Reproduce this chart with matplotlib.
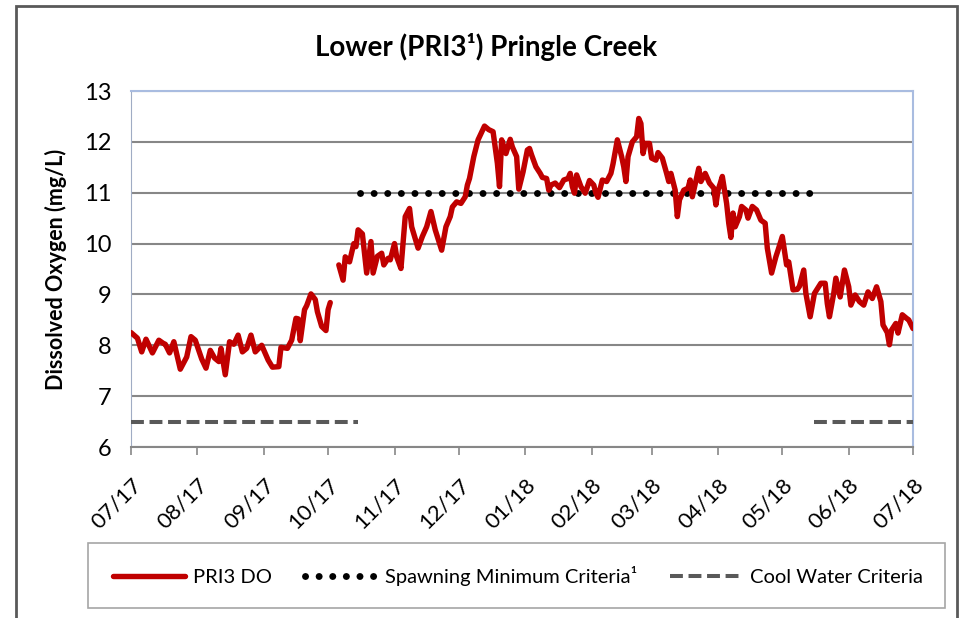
import numpy as np
import pandas as pd
import matplotlib
matplotlib.use("Agg")
import matplotlib.pyplot as plt
import matplotlib.dates as mdates
from matplotlib.patches import Rectangle

plt.rcParams["font.family"] = ["Lato", "DejaVu Sans"]

# dados: dias a partir de 01/07/2017 e OD (mg/L)
start = pd.Timestamp("2017-07-01")
do_days = [0, 3, 5, 7, 10, 13, 15, 16, 18, 20, 23, 26, 28, 30, 33, 35, 37, 39, 41, 42,
           44, 46, 48, 50, 52, 54, 56, 58, 61, 64, 66, 69, 70, 73, 75, 77, 78, 79, 81, 82,
           84, 86, 87, 89, 91, 92, 93, 95,
           97, 99, 100, 102, 104, 105, 106, 108, 110, 112, 113, 115, 117, 118, 120, 121,
           123, 124, 126, 128, 130, 131, 134, 136, 138, 140, 142, 145, 147, 149, 150, 152,
           154, 156, 157, 158, 160, 162, 165, 167, 169, 171, 172, 173, 175, 177, 178, 180,
           181, 183, 185, 186, 187, 189, 191, 192, 194, 195, 196, 198, 200, 202, 204, 205,
           206, 207, 208, 210, 212, 214, 216, 217, 218, 220, 222, 224, 225, 227, 229, 230,
           231, 232, 234, 236, 237, 238, 239, 240, 242, 243, 245, 246, 248, 250, 251, 252,
           254, 255, 256, 258, 260, 261, 262, 265, 266, 268, 270, 272, 273, 274, 275, 276,
           278, 279, 280, 281, 282, 284, 285, 287, 288, 290, 292, 294, 296, 297, 299, 301,
           302, 304, 306, 307, 309, 311, 312, 314, 315, 317, 319, 322, 324, 325, 326, 328,
           329, 331, 333, 335, 336, 338, 340, 342, 344, 346, 348, 350, 351, 353, 354, 355,
           357, 358, 360, 362, 363, 365]
do_vals = [8.25, 8.14, 7.87, 8.12, 7.85, 8.10, 8.04, 8.02, 7.85, 8.07, 7.53, 7.77, 8.17, 8.10,
           7.73, 7.55, 7.90, 7.75, 7.68, 7.94, 7.42, 8.07, 8.02, 8.20, 7.87, 7.94, 8.20, 7.87,
           8.00, 7.71, 7.57, 7.58, 7.96, 7.94, 8.10, 8.53, 8.52, 8.09, 8.70, 8.78, 9.01, 8.90,
           8.66, 8.37, 8.29, 8.70, 8.84, np.nan,
           9.58, 9.28, 9.74, 9.64, 10.00, 9.94, 10.27, 10.19, 9.42, 10.04, 9.42, 9.75, 9.81,
           9.58, 9.71, 9.68, 10.00, 9.74, 9.51, 10.53, 10.69, 10.33, 9.91, 10.14, 10.33, 10.63,
           10.27, 9.87, 10.33, 10.53, 10.72, 10.82, 10.79, 10.92, 11.15, 11.28, 11.71, 12.04,
           12.31, 12.24, 12.20, 11.58, 11.12, 12.04, 11.77, 12.05, 11.90, 11.71, 11.07, 11.41,
           11.84, 11.87, 11.74, 11.51, 11.38, 11.30, 11.28, 11.05, 11.15, 11.19, 11.10, 11.25,
           11.28, 11.38, 11.12, 10.99, 11.35, 11.12, 10.99, 11.24, 11.15, 10.99, 10.91, 11.25,
           11.22, 11.38, 11.57, 12.04, 11.71, 11.51, 11.22, 11.71, 12.00, 12.10, 12.46, 12.36,
           11.77, 11.97, 11.97, 11.68, 11.64, 11.79, 11.68, 11.38, 11.22, 11.38, 11.05, 10.53,
           10.86, 11.05, 11.09, 11.25, 10.92, 11.48, 11.22, 11.38, 11.19, 11.09, 10.76, 11.05,
           11.18, 11.32, 10.79, 10.40, 10.12, 10.60, 10.33, 10.53, 10.73, 10.66, 10.50, 10.73,
           10.66, 10.46, 10.40, 9.91, 9.42, 9.74, 9.87, 10.14, 9.58, 9.64, 9.09, 9.10, 9.16,
           9.48, 9.02, 8.56, 9.02, 9.22, 9.22, 8.82, 8.56, 9.02, 9.32, 8.95, 9.48, 9.15, 8.79,
           8.99, 8.86, 8.79, 9.05, 8.92, 9.15, 8.86, 8.40, 8.25, 8.01, 8.30, 8.43, 8.24, 8.60,
           8.53, 8.50, 8.33]

# critérios
spawn_dates = ["2017-10-16", "2018-05-16"]
spawn_vals = [11.0, 11.0]
cool_dates = ["2017-07-01", "2017-10-15", "2017-10-16", "2018-05-16", "2018-07-01"]
cool_vals = [6.5, 6.5, np.nan, 6.5, 6.5]

do_dates = start + pd.to_timedelta(do_days, unit="D")

fig = plt.figure(figsize=(9.63, 6.18), dpi=100)
ax = fig.add_axes([131 / 963, 1 - 447 / 618, 782 / 963, 356 / 618])

ax.plot(pd.to_datetime(cool_dates), cool_vals, color="#595959", lw=2.9,
        linestyle=(0, (3.2, 1.4)), label="Cool Water Criteria", zorder=3)
ax.plot(pd.to_datetime(spawn_dates), spawn_vals, color="black", lw=5.0,
        linestyle=(0, (0.01, 1.95)), dash_capstyle="round", label="Spawning Minimum Criteria¹", zorder=4)
ax.plot(do_dates, do_vals, color="#C00000", lw=3.9, label="PRI3 DO", zorder=5,
        solid_joinstyle="round", solid_capstyle="round")

ax.set_ylim(6, 13)
ax.set_yticks(range(6, 14))
ax.set_xlim(pd.Timestamp("2017-07-01"), pd.Timestamp("2018-07-01"))
ax.xaxis.set_major_locator(mdates.MonthLocator())
ax.xaxis.set_major_formatter(mdates.DateFormatter("%m/%y"))
ax.grid(axis="y", color="#878787", lw=1.5)
ax.set_axisbelow(True)

for lab in ax.get_xticklabels():
    lab.set_rotation(45)
    lab.set_ha("right")
    lab.set_rotation_mode("anchor")
ax.tick_params(axis="x", labelsize=16, length=6, color="#878787", width=1.2, pad=14)
ax.tick_params(axis="y", labelsize=17, length=0, pad=14)

ax.spines["top"].set_color("#a9bce0")
ax.spines["right"].set_color("#a9bce0")
ax.spines["left"].set_color("#a0acc4")
ax.spines["bottom"].set_color("#878787")
ax.spines["bottom"].set_linewidth(1.5)
ax.spines["top"].set_linewidth(1.5)
ax.spines["right"].set_linewidth(1.5)

ax.set_ylabel("Dissolved Oxygen (mg/L)", fontsize=15.5, fontweight="bold", labelpad=12)
fig.text(486 / 963, 1 - 47 / 618, "Lower (PRI3¹) Pringle Creek",
         ha="center", va="center", fontsize=20, fontweight="bold")

# caixa da legenda e moldura externa
fig.add_artist(Rectangle((88 / 963, 1 - 608 / 618), 857 / 963, 65 / 618,
                         transform=fig.transFigure, fill=False, ec="#a6a6a6", lw=1.2))
fig.add_artist(Rectangle((16 / 963, -0.05), 941 / 963, 1.05 - 6 / 618,
                         transform=fig.transFigure, fill=False, ec="#595959", lw=2))

h, l = ax.get_legend_handles_labels()
fig.legend(h[::-1], l[::-1], loc="center", bbox_to_anchor=(518 / 963, 1 - 576 / 618),
           ncol=3, frameon=False, fontsize=14.5, handlelength=3.6, handletextpad=0.4,
           columnspacing=1.6)

fig.savefig("out.png", dpi=100)
